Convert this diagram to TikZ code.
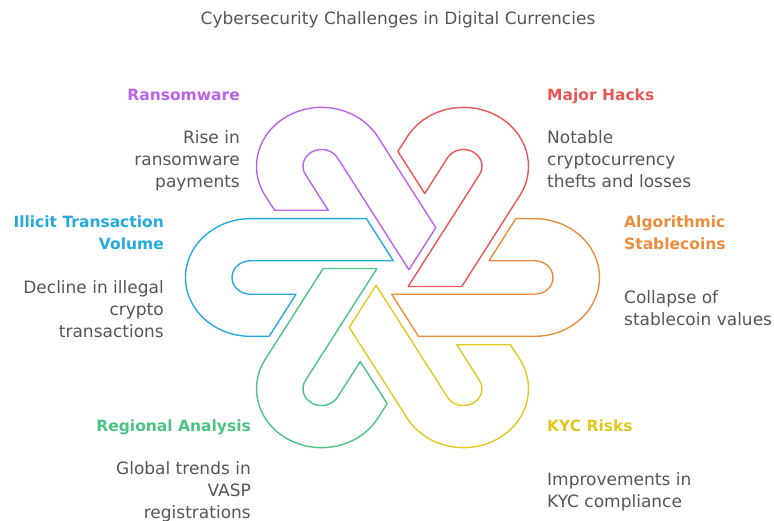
\documentclass[tikz,border=0pt]{standalone}
\usepackage{fontspec}
\setmainfont{DejaVu Sans}
\usetikzlibrary{positioning}
\definecolor{ransom}{RGB}{188,98,232}
\definecolor{hacks}{RGB}{232,86,86}
\definecolor{illicit}{RGB}{38,170,222}
\definecolor{algo}{RGB}{232,142,60}
\definecolor{region}{RGB}{74,196,132}
\definecolor{kyc}{RGB}{226,200,30}
\definecolor{bodygray}{RGB}{85,85,85}

\tikzset{
  knot/.style={line width=1.4pt, line join=round},
  head/.style={font=\fontsize{15.5}{22}\selectfont\bfseries, inner sep=0pt},
  body/.style={font=\fontsize{17}{22}\selectfont, text=bodygray, inner sep=0pt},
}

\begin{document}
\begin{tikzpicture}[x=1pt, y=1pt]
    \useasboundingbox (0,0) rectangle (774,-520);

    \node[font=\fontsize{17}{20}\selectfont, text=bodygray, inner sep=0pt, anchor=north] (title) at (398,-11) {Cybersecurity Challenges in Digital Currencies};

    % six interlocking hooks
    \begin{scope}[shift={(392.5,-277.5)}, yscale=0.905]
        \foreach \ang/\col in {0/illicit, -60/ransom, -120/hacks, 180/algo, 120/kyc, 60/region} {
            \draw[knot, \col, rotate=\ang]
                (-142,65) -- (-26,65) -- (0.8,18.5) -- (-142,18.5)
                arc[start angle=90, end angle=270, radius=18.5]
                -- (-96.5,-18.5) -- (-123.3,-65) -- (-142,-65)
                arc[start angle=270, end angle=90, radius=65] -- cycle;
        }
    \end{scope}

    % left side
    \node[head, text=ransom, anchor=north east] (ransom) at (240,-89) {Ransomware};
    \node[body, anchor=north east, align=right] (ransomtxt) at (240,-130) {Rise in\\ransomware\\payments};
    \node[head, text=illicit, anchor=north east, align=right] (illicit) at (164,-216) {Illicit Transaction\\Volume};
    \node[body, anchor=north east, align=right] (illicittxt) at (164,-280) {Decline in illegal\\crypto\\transactions};
    \node[head, text=region, anchor=north east] (region) at (251,-420) {Regional Analysis};
    \node[body, anchor=north east, align=right] (regiontxt) at (251,-461) {Global trends in\\VASP\\registrations};

    % right side
    \node[head, text=hacks, anchor=north west] (hacks) at (547,-89) {Major Hacks};
    \node[body, anchor=north west, align=left] (hackstxt) at (547,-130) {Notable\\cryptocurrency\\thefts and losses};
    \node[head, text=algo, anchor=north west, align=left] (algo) at (624,-216) {Algorithmic\\Stablecoins};
    \node[body, anchor=north west, align=left] (algotxt) at (624,-290) {Collapse of\\stablecoin values};
    \node[head, text=kyc, anchor=north west] (kyc) at (547,-420) {KYC Risks};
    \node[body, anchor=north west, align=left] (kyctxt) at (547,-472) {Improvements in\\KYC compliance};
\end{tikzpicture}
\end{document}
